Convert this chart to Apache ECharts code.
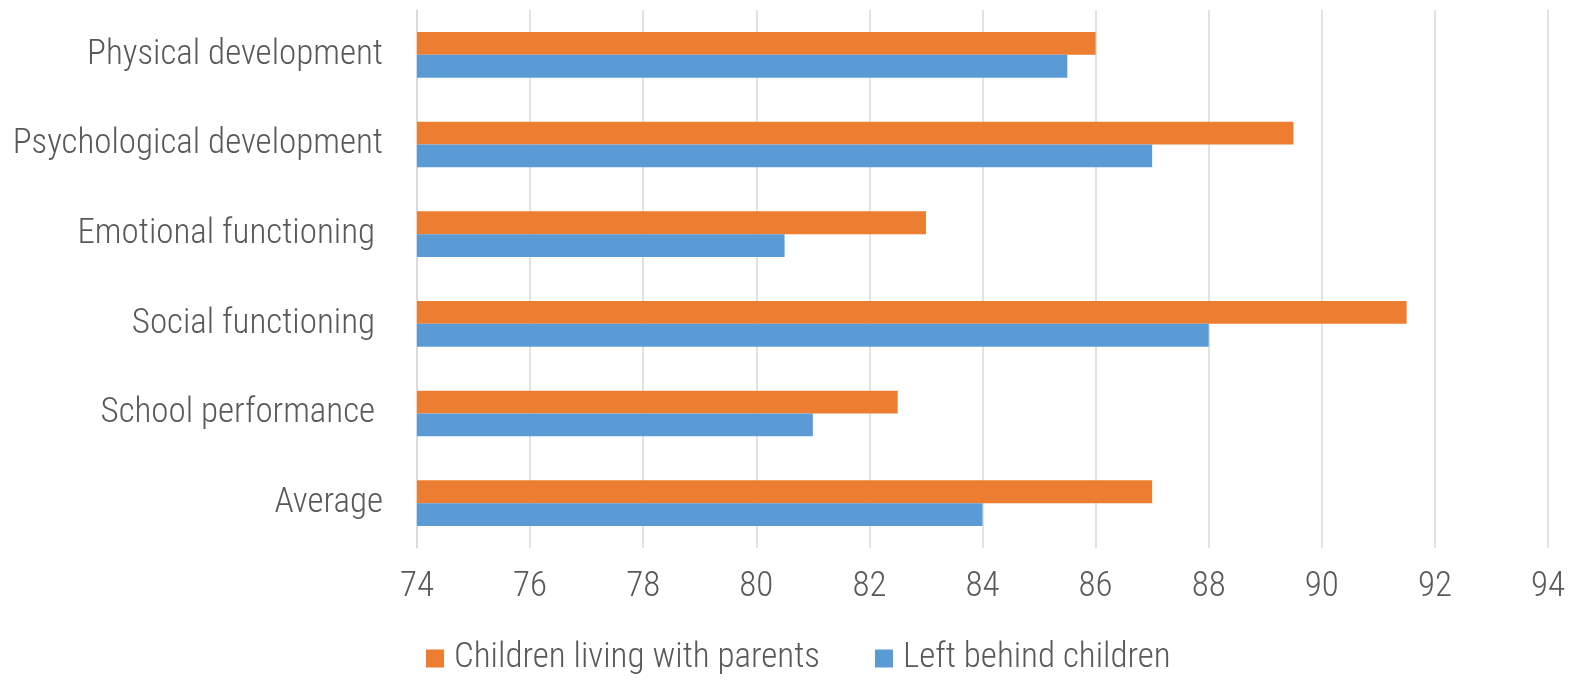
<!DOCTYPE html>
<html>
<head>
<meta charset="utf-8">
<script src="https://cdn.jsdelivr.net/npm/echarts@6/dist/echarts.min.js"></script>
<style>
  html, body { margin: 0; padding: 0; background: #fff; }
  #chart { width: 1570px; height: 681px; }
</style>
</head>
<body>
<div id="chart"></div>
<script>
// 数据
const categories = ['Physical development', 'Psychological development', 'Emotional functioning ', 'Social functioning ', 'School performance ', 'Average'];
const withParents = [86, 89.5, 83, 91.5, 82.5, 87];
const leftBehind = [85.5, 87, 80.5, 88, 81, 84];
const seriesNames = ['Children living with parents', 'Left behind children'];

const FONT = '"Roboto Condensed", "Liberation Sans", sans-serif';
const TXT = '#595959';
const txt = { color: TXT, fontSize: 35, fontFamily: FONT, fontWeight: 300 };

const chart = echarts.init(document.getElementById('chart'));
chart.setOption({
  animation: false,
  textStyle: { fontFamily: FONT },
  legend: {
    data: seriesNames,
    bottom: 0,
    left: 421,
    itemWidth: 18, itemHeight: 18, itemGap: 55,
    icon: 'rect',
    textStyle: { ...txt, padding: [0, 0, 0, 5] },
  },
  grid: { left: 417, right: 22, top: 10, bottom: 133 },
  xAxis: {
    type: 'value', min: 74, max: 94, interval: 2,
    axisLine: { show: false },
    axisTick: { show: false },
    axisLabel: { ...txt, margin: 22 },
    splitLine: { lineStyle: { color: '#d9d9d9', width: 1.5 } },
  },
  yAxis: {
    type: 'category', data: categories, inverse: true,
    axisLine: { show: true, lineStyle: { color: '#d9d9d9', width: 1.5 } },
    axisTick: { show: false },
    axisLabel: { ...txt, margin: 34 },
  },
  series: [
    { name: seriesNames[0], type: 'bar', data: withParents, barGap: '0%', barCategoryGap: '49%', itemStyle: { color: '#ED7D31' } },
    { name: seriesNames[1], type: 'bar', data: leftBehind, itemStyle: { color: '#5B9BD5' } },
  ],
});
</script>
</body>
</html>
